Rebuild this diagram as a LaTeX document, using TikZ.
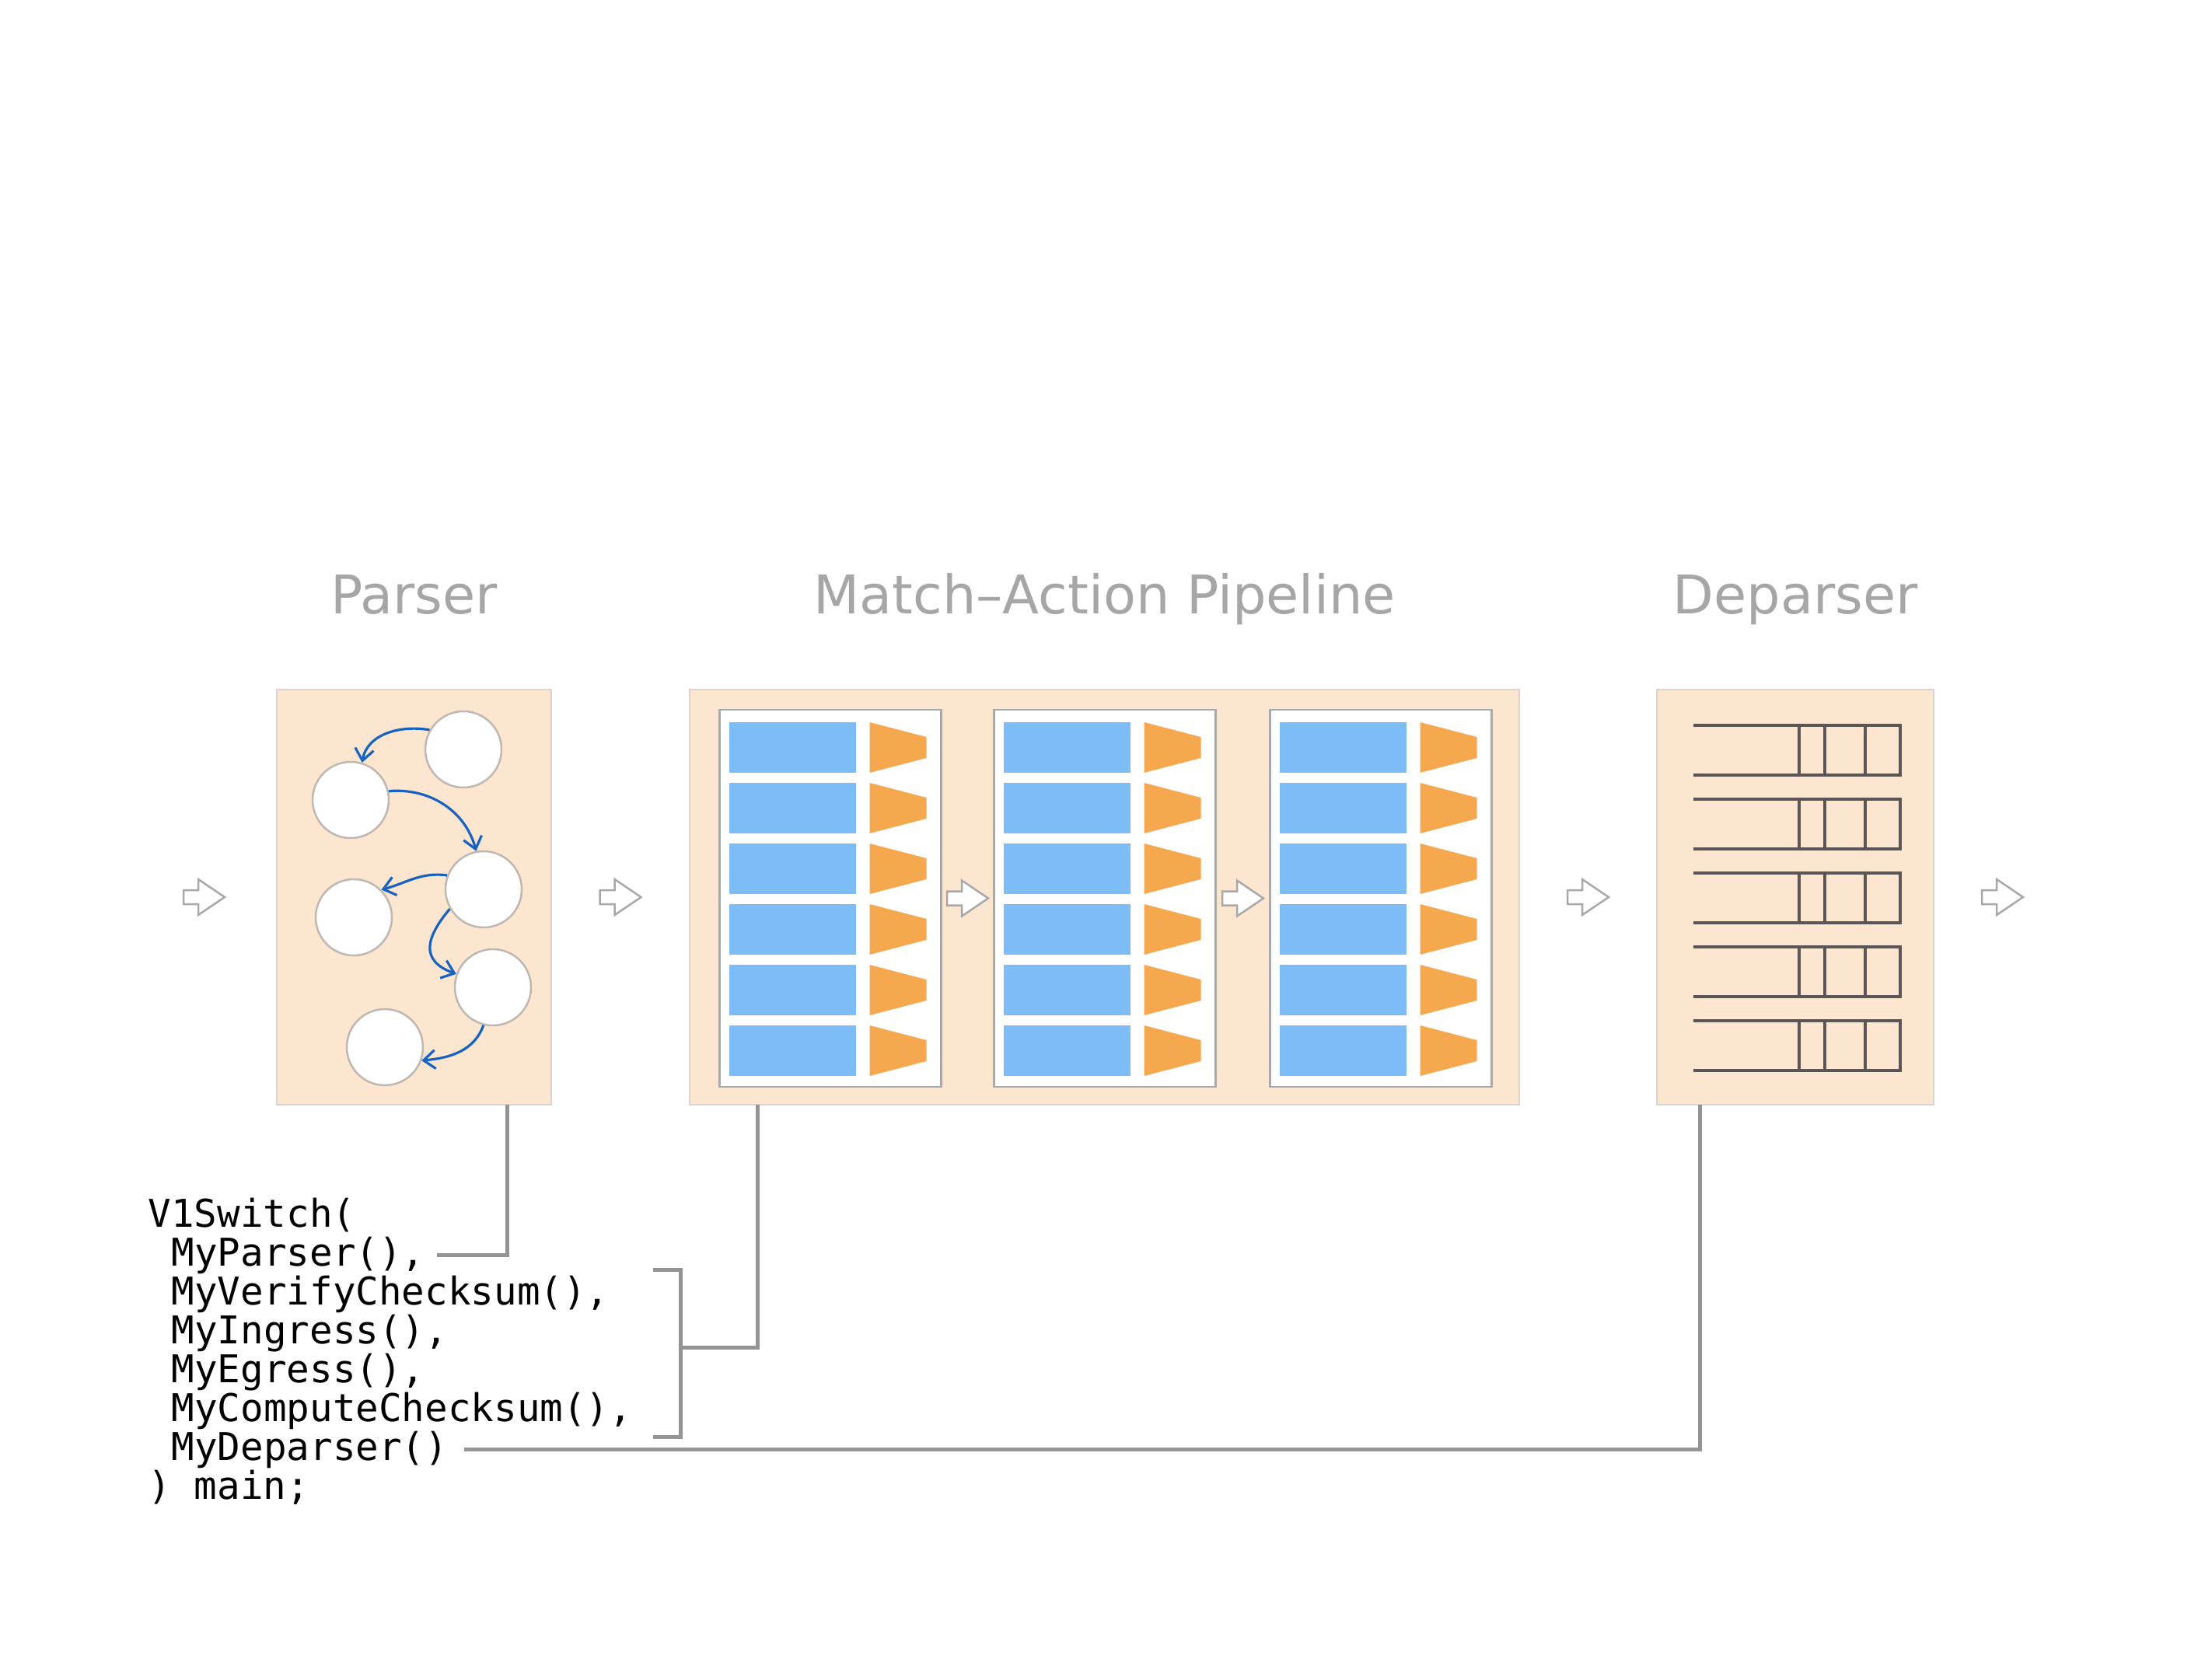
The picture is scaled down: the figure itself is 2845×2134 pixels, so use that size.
\documentclass[tikz,border=0pt]{standalone}
\usepackage{fontspec}
\setmainfont{DejaVu Sans}
\newfontfamily\codefont{DejaVu Sans Mono}
\usetikzlibrary{arrows.meta,calc}

\definecolor{peach}{HTML}{FDE6D0}
\definecolor{boxline}{HTML}{D9D4D0}
\definecolor{stageline}{HTML}{A9A9A9}
\definecolor{tblue}{HTML}{7DBCF7}
\definecolor{torange}{HTML}{F5A84E}
\definecolor{stateline}{HTML}{BFB8B2}
\definecolor{transblue}{HTML}{1763BF}
\definecolor{fieldline}{HTML}{5A5556}
\definecolor{flowgray}{HTML}{A8A8A8}
\definecolor{linkgray}{HTML}{949494}
\definecolor{titlegray}{HTML}{A6A6A6}

\begin{document}
\begin{tikzpicture}[x=0.1mm,y=-0.1mm,
  block/.style={draw=boxline,fill=peach,line width=0.2mm,minimum height=53.4mm,inner sep=0,outer sep=0},
  stagebox/.style={draw=stageline,fill=white,line width=0.25mm,minimum width=28.5mm,minimum height=48.5mm,inner sep=0,outer sep=0},
  statenode/.style={circle,draw=stateline,fill=white,line width=0.25mm,minimum size=9.8mm,inner sep=0},
  trans/.style={-{Straight Barb[length=1.5mm,width=2.4mm]},draw=transblue,line width=0.32mm},
  titletext/.style={anchor=base,text=titlegray,font=\fontsize{19.5}{23}\selectfont},
  codeline/.style={anchor=base west,inner sep=0,font=\codefont\fontsize{14}{14}\selectfont},
  link/.style={draw=linkgray,line width=0.5mm},
  field/.style={draw=fieldline,line width=0.32mm},
  flow/.pic={\draw[draw=flowgray,fill=white,line width=0.25mm] (0,-9) -- (19,-9) -- (19,-23) -- (53,0) -- (19,23) -- (19,9) -- (0,9) -- cycle;}]
  \fill[white] (0,0) rectangle (2845,2134);
  \useasboundingbox (0,0) rectangle (2845,2134);

  % the three blocks
  \node[block,minimum width=35.3mm] (parser) at (532.5,1154) {};
  \node[block,minimum width=106.7mm] (pipeline) at (1420.5,1154) {};
  \node[block,minimum width=35.6mm] (deparser) at (2309,1154) {};

  \coordinate (tline) at (0,789);
  \node[titletext] (tparser) at (parser.north |- tline) {Parser};
  \node[titletext] (tpipeline) at (pipeline.north |- tline) {Match–Action Pipeline};
  \node[titletext] (tdeparser) at (deparser.north |- tline) {Deparser};

  % parser state machine
  \node[statenode] (s1) at (596,964) {};
  \node[statenode] (s2) at (451,1029) {};
  \node[statenode] (s3) at (622,1144) {};
  \node[statenode] (s4) at (455,1180) {};
  \node[statenode] (s5) at (634,1270) {};
  \node[statenode] (s6) at (495,1347) {};
  \draw[trans] (s1.150) to[out=170,in=80] (s2.73);
  \draw[trans] (s2.13) to[out=5,in=105] (s3.101);
  \draw[trans] (s3.159) to[out=172,in=15] (s4.45);
  \draw[trans] (s3.210) to[out=230,in=160,looseness=1.5] (s5.160);
  \draw[trans] (s5.256) to[out=250,in=5] (s6.340);

  % match-action stages
  \foreach \name/\cx in {st1/1068,st2/1421,st3/1776}
    \node[stagebox] (\name) at (\cx,1155.5) {};
  \foreach \s in {st1,st2,st3}
    \foreach \r in {0,...,5} {
      \fill[tblue] ($(\s.north west)+(12,16+78*\r)$) rectangle ++(163,65);
      \fill[torange] ($(\s.north west)+(193,16+78*\r)$) -- ++(73,19) -- ++(0,27) -- ++(-73,19) -- cycle;
    }

  % deparser fields
  \foreach \r in {0,...,4} {
    \draw[field] ($(deparser.north west)+(47,46+95*\r)$) -- ++(266,0) -- ++(0,64) -- ++(-266,0);
    \foreach \vx in {183,216,268}
      \draw[field] ($(deparser.north west)+(\vx,46+95*\r)$) -- ++(0,64);
  }

  % flow arrows
  \pic at ($(parser.west)+(-120,0)$) {flow};
  \pic at ($(parser.east)!.5!(pipeline.west)+(-26.5,0)$) {flow};
  \pic at ($(st1.east)!.5!(st2.west)+(-26.5,0)$) {flow};
  \pic at ($(st2.east)!.5!(st3.west)+(-26.5,0)$) {flow};
  \pic at ($(pipeline.east)!.5!(deparser.west)+(-26.5,0)$) {flow};
  \pic at ($(deparser.east)+(62,0)$) {flow};

  % P4 program
  \node[codeline] (lnopen) at (190,1578) {V1Switch(};
  \node[codeline] (lnparser) at (220,1628) {MyParser(),};
  \node[codeline] (lnverify) at (220,1678) {MyVerifyChecksum(),};
  \node[codeline] (lningress) at (220,1728) {MyIngress(),};
  \node[codeline] (lnegress) at (220,1778) {MyEgress(),};
  \node[codeline] (lncompute) at (220,1828) {MyComputeChecksum(),};
  \node[codeline] (lndeparser) at (220,1878) {MyDeparser()};
  \node[codeline] (lnclose) at (190,1928) {) main;};

  \coordinate (brtop) at (840,1633);
  \coordinate (brbot) at (840,1848);
  \coordinate (brmid) at (875,1733);
  \draw[link] ($(parser.south)+(120,0)$) |- ($(lnparser.east)+(15,0)$);
  \draw[link] (brtop) -| (brmid) |- (brbot);
  \draw[link] ($(pipeline.south)+(-446,0)$) |- (brmid);
  \draw[link] ($(deparser.south)+(-123,0)$) |- ($(lndeparser.east)+(20,0)$);
\end{tikzpicture}
\end{document}
